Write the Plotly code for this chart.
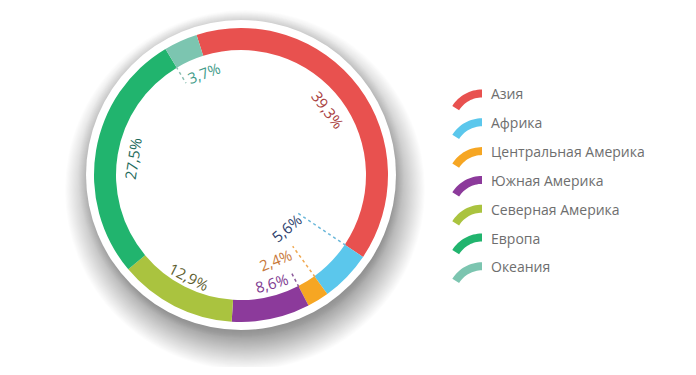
import math
import plotly.graph_objects as go

# ---- data ----
regions = ["Азия", "Африка", "Центральная Америка", "Южная Америка",
           "Северная Америка", "Европа", "Океания"]
shares = [39.3, 5.6, 2.4, 8.6, 12.9, 27.5, 3.7]
share_labels = ["39,3%", "5,6%", "2,4%", "8,6%", "12,9%", "27,5%", "3,7%"]

# ---- styles ----
colors = ["#E8514F", "#5BC7EC", "#F6A623", "#8C3A9B", "#AAC33F", "#21B46E", "#7CC5B0"]
label_colors = ["#A83E3E", "#2E3F6E", "#C97A3C", "#7E3A90", "#5E5E30", "#1F6B5C", "#3F9C8A"]
leader_colors = ["#000000", "#6CB8DA", "#F0A850", "#8C5A9B", "#000000", "#000000", "#8CBFB2"]
label_angle_offset = [0, 5.5, 9.6, -4.0, 0, -0.8, 4.1]
label_radius = [109, 70, 92, 112, 114, 109, 109]
leader_inner = [None, 68, 88, 110, None, None, 107]

W, H = 696, 375          # browser window
PAD = 8                  # default body margin of the page
FW, FH = W - 2 * PAD, H - 2 * PAD
CX, CY = 241, 175
R_OUT, R_IN = 147, 125
ROT = -17.6


def px(x):
    return (x - PAD) / FW


def py(y):
    return 1 - (y - PAD) / FH


fig = go.Figure()
fig.add_trace(go.Pie(
    labels=regions, values=shares, sort=False, direction="clockwise",
    rotation=ROT, hole=R_IN / R_OUT, textinfo="none", hoverinfo="label+percent",
    marker=dict(colors=colors, line=dict(width=0)),
    domain=dict(x=[px(CX - R_OUT), px(CX + R_OUT)],
                y=[py(CY + R_OUT), py(CY - R_OUT)]),
    showlegend=False,
))

shapes = []
# soft drop shadow behind the white disc
SR = 155
N = 32
for i in range(N):
    r = 180 - i * 1.1
    ox, oy = 4, 15
    shapes.append(dict(type="circle", xref="paper", yref="paper", layer="below",
                       x0=px(CX + ox - r), x1=px(CX + ox + r),
                       y0=py(CY + oy + r), y1=py(CY + oy - r),
                       fillcolor="rgba(0,0,0,0.012)", line=dict(width=0)))
for i in range(8):
    r = SR + 8 - i
    shapes.append(dict(type="circle", xref="paper", yref="paper", layer="below",
                       x0=px(CX - r), x1=px(CX + r),
                       y0=py(CY + r), y1=py(CY - r),
                       fillcolor="rgba(0,0,0,0.006)", line=dict(width=0)))
shapes.append(dict(type="circle", xref="paper", yref="paper", layer="below",
                   x0=px(CX - SR), x1=px(CX + SR), y0=py(CY + SR), y1=py(CY - SR),
                   fillcolor="white", line=dict(width=0)))

annotations = []
start = ROT
for i, v in enumerate(shares):
    span = v / sum(shares) * 360
    mid = start + span / 2
    a = mid + label_angle_offset[i]
    rr = label_radius[i]
    lx = CX + rr * math.sin(math.radians(a))
    ly = CY - rr * math.cos(math.radians(a))
    t = ((a + 180) % 360) - 180
    if t > 90:
        t -= 180
    elif t < -90:
        t += 180
    annotations.append(dict(x=px(lx), y=py(ly), xref="paper", yref="paper",
                            text=share_labels[i], showarrow=False, textangle=t,
                            xanchor="center", yanchor="middle",
                            font=dict(family="Open Sans", size=15, color=label_colors[i])))
    if leader_inner[i] is not None:
        s = math.radians(start)
        x0 = CX + (R_IN + 1) * math.sin(s)
        y0 = CY - (R_IN + 1) * math.cos(s)
        x1 = CX + leader_inner[i] * math.sin(s)
        y1 = CY - leader_inner[i] * math.cos(s)
        shapes.append(dict(type="line", xref="paper", yref="paper",
                           x0=px(x0), y0=py(y0), x1=px(x1), y1=py(y1),
                           line=dict(color=leader_colors[i], width=1.5, dash="dot")))
    start += span

# custom legend with arc icons
LX_END, LY0, LSTEP = 482, 89.5, 28.8
RO, RI, ARC = 35, 27, 58
for i, name in enumerate(regions):
    top = LY0 + i * LSTEP
    ccx, ccy = LX_END, top + RO
    pts = []
    n = 16
    for k in range(n + 1):
        th = math.radians(ARC * k / n)
        pts.append((ccx - RO * math.sin(th), ccy - RO * math.cos(th)))
    for k in range(n, -1, -1):
        th = math.radians(ARC * k / n)
        pts.append((ccx - RI * math.sin(th), ccy - RI * math.cos(th)))
    path = "M " + " L ".join(f"{px(x):.5f},{py(y):.5f}" for x, y in pts) + " Z"
    shapes.append(dict(type="path", xref="paper", yref="paper", path=path,
                       fillcolor=colors[i], line=dict(width=0)))
    annotations.append(dict(x=px(489), y=py(top + 4.5), xref="paper", yref="paper",
                            text=name, showarrow=False, xanchor="left", yanchor="middle",
                            font=dict(family="Open Sans", size=14, color="#6E6E6E")))

fig.update_layout(width=FW, height=FH, margin=dict(l=0, r=0, t=0, b=0),
                  paper_bgcolor="white", plot_bgcolor="white",
                  shapes=shapes, annotations=annotations)
fig.write_html("out.html")
